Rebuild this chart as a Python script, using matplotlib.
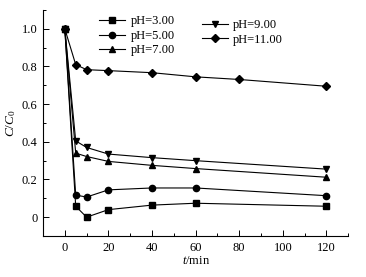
import matplotlib
matplotlib.use("Agg")
import matplotlib.pyplot as plt
from matplotlib.ticker import MultipleLocator, FuncFormatter

plt.rcParams['font.family'] = ['Liberation Serif', 'DejaVu Serif']
plt.rcParams['mathtext.fontset'] = 'custom'
plt.rcParams['mathtext.rm'] = 'Liberation Serif'
plt.rcParams['mathtext.it'] = 'Liberation Serif:italic'

t_main = [0, 5, 10, 20, 40, 60, 120]
ph3 = [1.0, 0.058, 0.0, 0.040, 0.064, 0.074, 0.058]
ph5 = [1.0, 0.117, 0.107, 0.145, 0.155, 0.155, 0.114]
ph7 = [1.0, 0.340, 0.322, 0.296, 0.275, 0.258, 0.212]
ph9 = [1.0, 0.405, 0.370, 0.335, 0.316, 0.300, 0.255]
t_11 = [0, 5, 10, 20, 40, 60, 80, 120]
ph11 = [1.0, 0.810, 0.783, 0.778, 0.767, 0.745, 0.731, 0.695]

fig = plt.figure(figsize=(3.66, 2.77), dpi=100)
ax = fig.add_axes([0.1175, 0.148, 0.834, 0.816])

kw = dict(color='black', lw=0.8, markersize=4.5)
l3, = ax.plot(t_main, ph3, marker='s', label='pH=3.00', **kw)
l5, = ax.plot(t_main, ph5, marker='o', label='pH=5.00', **kw)
l7, = ax.plot(t_main, ph7, marker='^', label='pH=7.00', **kw)
l9, = ax.plot(t_main, ph9, marker='v', label='pH=9.00', **kw)
l11, = ax.plot(t_11, ph11, marker='D', label='pH=11.00', markersize=4, color='black', lw=0.8)

ax.set_xlim(-10, 130)
ax.set_ylim(-0.1, 1.1)
ax.xaxis.set_major_locator(MultipleLocator(20))
ax.xaxis.set_minor_locator(MultipleLocator(10))
ax.yaxis.set_major_locator(MultipleLocator(0.2))
ax.yaxis.set_minor_locator(MultipleLocator(0.1))
ax.yaxis.set_major_formatter(FuncFormatter(lambda v, p: '0' if abs(v) < 1e-9 else f'{v:.1f}'))
ax.xaxis.set_major_formatter(FuncFormatter(lambda v, p: f'{v:.0f}'))
for s in ['top', 'right']:
    ax.spines[s].set_visible(False)
for s in ['left', 'bottom']:
    ax.spines[s].set_linewidth(0.8)
ax.tick_params(which='both', direction='in', labelsize=9, width=0.7)
ax.tick_params(which='major', length=4, pad=4)
ax.tick_params(which='minor', length=2.5)

ax.set_xlabel(r'$\mathit{t}$/min', fontsize=9, labelpad=1)
ax.set_ylabel(r'$\mathit{C}/\mathit{C}_0$', fontsize=9.5, labelpad=3)

common = dict(frameon=False, fontsize=9, handlelength=2.1, labelspacing=0.2,
              borderpad=0, borderaxespad=0, handletextpad=0.4, loc='upper left')
leg1 = ax.legend(handles=[l3, l5, l7], bbox_to_anchor=(0.184, 0.976), **common)
ax.add_artist(leg1)
ax.legend(handles=[l9, l11], bbox_to_anchor=(0.521, 0.959), **common)

fig.savefig('out.png', dpi=100)
